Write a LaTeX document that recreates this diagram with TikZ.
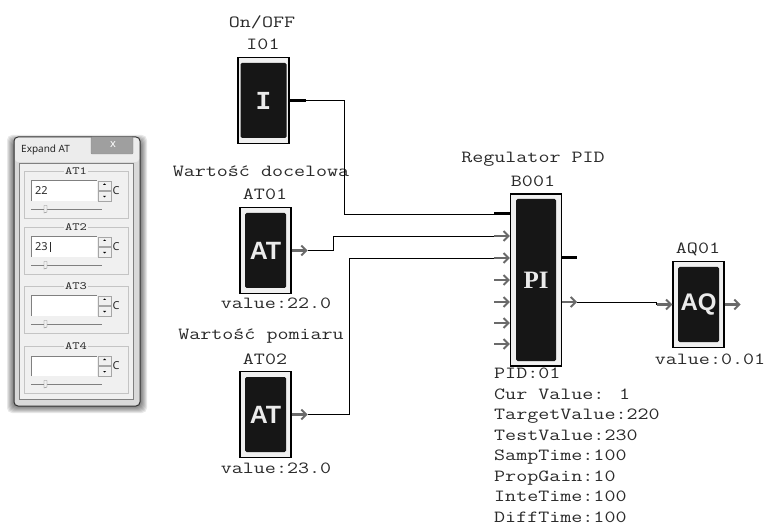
\documentclass[tikz,border=0pt]{standalone}
\usepackage{fontspec}
\usetikzlibrary{positioning, arrows.meta}
\newfontfamily\blockfont[FakeStretch=1.26]{Latin Modern Mono}
\newfontfamily\dlgfont{Noto Sans}
\newfontfamily\pifont{Liberation Serif}
\newfontfamily\atfont{Liberation Sans}
\newfontfamily\ifont{Liberation Mono}
\definecolor{blockblack}{HTML}{161616}
\definecolor{stubgray}{HTML}{6A6A6A}
\definecolor{txtgray}{HTML}{2A2A2A}
\definecolor{dlgface}{HTML}{F0F0F0}
\definecolor{dlgline}{HTML}{C4C4C4}
\tikzset{
  lbl/.style = {inner sep=0pt, text=txtgray, font=\blockfont\fontsize{17}{17}\selectfont},
  block/.style = {draw, line width=1.3pt, fill=gray!12, inner sep=0pt, minimum width=51pt, minimum height=86pt},
  core/.style = {fill=blockblack, rounded corners=1.5pt, inner sep=0pt, minimum width=41pt, minimum height=75pt, text=white!92!black},
  wire/.style = {line width=0.8pt, black},
  bar/.style = {line width=3pt, black},
  pin/.style = {line width=2.4pt, stubgray, -{Straight Barb[length=5pt, width=10pt, line width=1.9pt]}},
}
% one AT box of the dialog: top, name, value
\newcommand{\atpanel}[3]{
  \begin{scope}[yshift=-#1pt]
    \draw[dlgline, line width=0.8pt] (24,0) rectangle (128,47);
    \node[fill=dlgface, inner sep=1pt, font=\blockfont\bfseries\fontsize{11}{11}\selectfont, text=txtgray] (#2) at (76,0) {#2};
    \draw[fill=white, draw=none] (31,10) rectangle (97,30);
    \draw[gray, line width=1pt] (31,30) -- (31,10) -- (97,10);
    \draw[fill=dlgface, draw=gray!70, line width=0.6pt] (98,10) rectangle (111,19.5);
    \draw[fill=dlgface, draw=gray!70, line width=0.6pt] (98,20.5) rectangle (111,30);
    \fill[black] (103,14) -- (106,14) -- (104.5,12.5) -- cycle;
    \fill[black] (103,25) -- (106,25) -- (104.5,26.5) -- cycle;
    \node[inner sep=0pt, font=\dlgfont\fontsize{11}{11}\selectfont, text=txtgray] at (116,20) {C};
    \node[anchor=west, inner sep=0pt, font=\dlgfont\fontsize{11}{11}\selectfont, text=txtgray] at (35,20) {#3};
    \draw[gray, line width=0.9pt] (31,38.3) -- (102,38.3);
    \fill[dlgface, draw=gray] (44,34.5) -- (47,34.5) -- (47,41) -- (44,42) -- cycle;
  \end{scope}
}
\begin{document}
\begin{tikzpicture}[x=1pt, y=-1pt]
\useasboundingbox (0,0) rectangle (765,526);
% dialog
\foreach \g in {1,2,...,8}
  \fill[black, opacity=0.09, rounded corners=5pt] (15-\g,140-\g+3) rectangle (139+\g,404+\g+1);
\draw[fill=gray!30, draw=black!80, line width=1pt, rounded corners=4pt] (14,137) rectangle (140,406);
\fill[white!85!gray, rounded corners=3pt] (15,138) rectangle (139,162);
\node[anchor=west, inner sep=0pt, font=\dlgfont\fontsize{10}{10}\selectfont, text=black!85] (title) at (21,150) {Expand AT};
\draw[fill=gray!75, draw=gray!90, rounded corners=1pt] (91,137) rectangle (133,154);
\node[inner sep=0pt, font=\dlgfont\bfseries\fontsize{11}{11}\selectfont, text=white] (close) at (113,145) {x};
\draw[fill=dlgface, draw=gray, line width=0.8pt] (19,163) rectangle (133,399);
\atpanel{171}{AT1}{22}
\atpanel{227}{AT2}{23\,\rule[-1pt]{0.7pt}{10pt}}
\atpanel{286}{AT3}{}
\atpanel{346}{AT4}{}
% blocks
\node[block] (I01) at (263.5,100.5) {};
\node[core, font=\ifont\bfseries\fontsize{26}{26}\selectfont, minimum width=46pt] (I01c) at (I01) {I};
\node[block] (AT01) at (265.5,250.5) {};
\node[core, font=\atfont\bfseries\fontsize{25}{25}\selectfont] (AT01c) at (AT01) {AT};
\node[block] (AT02) at (265.5,414.5) {};
\node[core, font=\atfont\bfseries\fontsize{25}{25}\selectfont] (AT02c) at (AT02) {AT};
\node[block, minimum height=172pt] (B001) at (536,280) {};
\node[core, font=\pifont\bfseries\fontsize{25}{25}\selectfont, minimum width=40pt, minimum height=162pt] (B001c) at (B001) {PI};
\node[block] (AQ01) at (698.5,304.5) {};
\node[core, font=\atfont\bfseries\fontsize{24}{24}\selectfont] (AQ01c) at (AQ01) {AQ};
% labels
\node[lbl] (onoff) at (262,22) {On/OFF};
\node[lbl] (I01t) at (263,44) {I01};
\node[lbl] (AT01d) at (261,171) {Wartość docelowa};
\node[lbl] (AT01t) at (265,194) {AT01};
\node[lbl] (AT01v) at (276,303) {value:22.0};
\node[lbl] (AT02d) at (261,336) {Wartość pomiaru};
\node[lbl] (AT02t) at (265,359) {AT02};
\node[lbl] (AT02v) at (276,468) {value:23.0};
\node[lbl] (B001d) at (533,159) {Regulator PID};
\node[lbl] (B001t) at (533,181) {B001};
\node[lbl] (AQ01t) at (698,249) {AQ01};
\node[lbl] (AQ01v) at (710,359) {value:0.01};
\node[lbl, anchor=north west, align=left, font=\blockfont\fontsize{17}{20.5}\selectfont] (B001i) at (494,368) {PID:01\\Cur Value: 1\\TargetValue:220\\TestValue:230\\SampTime:100\\PropGain:10\\InteTime:100\\DiffTime:100};
% stubs of the blocks
\draw[bar] (I01.east) -- ++(16,0) coordinate (I01o);
\draw[pin] (AT01.east) -- ++(16,0) coordinate (AT01o);
\draw[pin] (AT02.east) -- ++(16,0) coordinate (AT02o);
\coordinate (B001a) at (494,214);
\coordinate (B001b) at (494,236);
\coordinate (B001c1) at (494,258);
\coordinate (B001d1) at (494,280);
\coordinate (B001e) at (494,302);
\coordinate (B001f) at (494,323);
\coordinate (B001g) at (494,344);
\draw[bar] (B001a) -- (B001a -| B001.west);
\draw[pin] (B001b) -- (B001b -| B001.west);
\draw[pin] (B001c1) -- (B001c1 -| B001.west);
\draw[pin] (B001d1) -- (B001d1 -| B001.west);
\draw[pin] (B001e) -- (B001e -| B001.west);
\draw[pin] (B001f) -- (B001f -| B001.west);
\draw[pin] (B001g) -- (B001g -| B001.west);
\coordinate (B001p) at (577,258);
\coordinate (B001o) at (577,302);
\draw[bar] (B001p -| B001.east) -- (B001p);
\draw[pin] (B001o -| B001.east) -- (B001o);
\coordinate (AQ01i) at (657,304.5);
\draw[pin] (AQ01i) -- (AQ01.west);
\draw[pin] (AQ01.east) -- ++(16,0) coordinate (AQ01o);
% wires
\draw[wire] (I01o) -| (344,214) -- (B001a);
\draw[wire] (AT01o) -| (333,236) -- (B001b);
\draw[wire] (AT02o) -| (349,258) -- (B001c1);
\draw[wire] (B001o) -- (656,302) |- (AQ01i);
\end{tikzpicture}
\end{document}
